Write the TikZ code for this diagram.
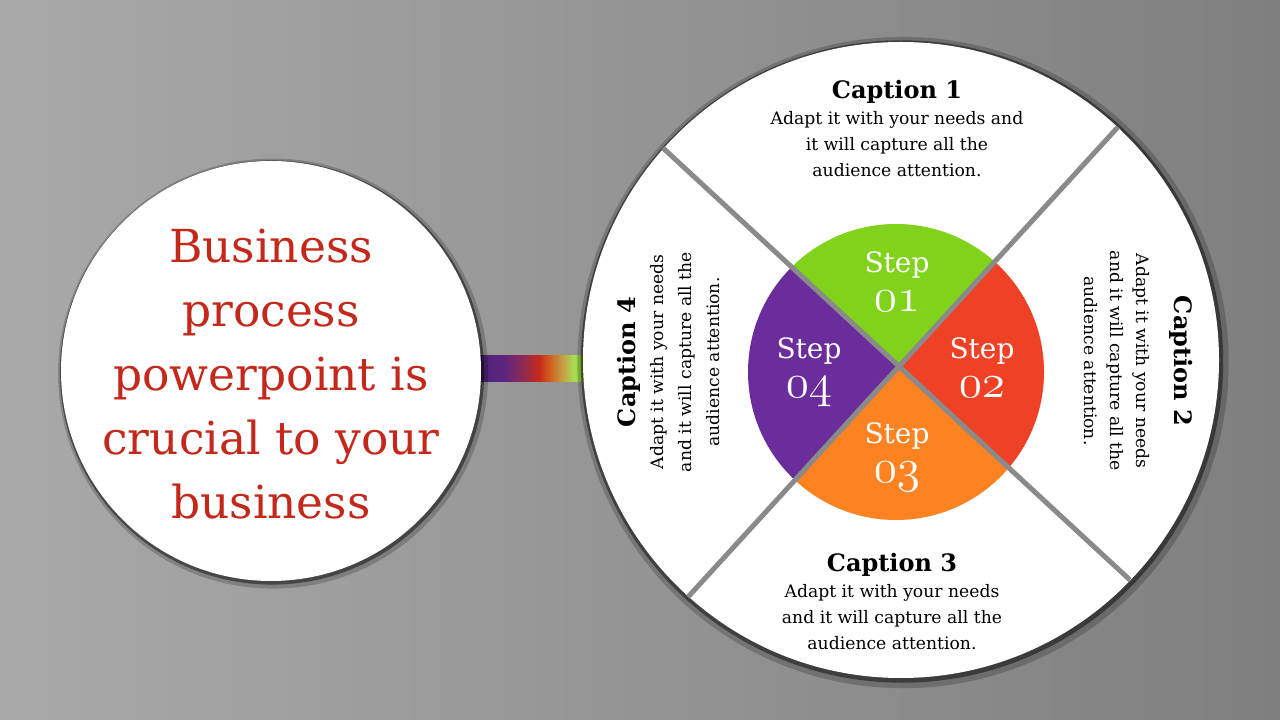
\documentclass[tikz,border=0pt]{standalone}
\usepackage{fontspec}
\setmainfont{DejaVu Serif}
\usetikzlibrary{positioning, shadows, calc}

\definecolor{bgleft}{HTML}{A9A9A9}
\definecolor{bgright}{HTML}{7F7F7F}
\definecolor{titlered}{HTML}{C3281B}
\definecolor{stepgreen}{HTML}{80D21A}
\definecolor{stepred}{HTML}{EE4126}
\definecolor{steporange}{HTML}{FD8221}
\definecolor{steppurple}{HTML}{6C2D9C}
\definecolor{divgray}{HTML}{8A8A8A}
\definecolor{barA}{HTML}{2C1444}
\definecolor{barB}{HTML}{4E2276}
\definecolor{barC}{HTML}{5A2580}
\definecolor{barD}{HTML}{8E2A55}
\definecolor{barE}{HTML}{C62A1A}
\definecolor{barF}{HTML}{D2581E}
\definecolor{barG}{HTML}{C4A046}
\definecolor{barH}{HTML}{A8E050}
\definecolor{barI}{HTML}{8CC83E}
\definecolor{barJ}{HTML}{527C22}

\pgfdeclarehorizontalshading{rainbowbar}{100bp}{color(0bp)=(barA); color(25bp)=(barA);
  color(27.5bp)=(barB); color(37.5bp)=(barC); color(46bp)=(barD); color(53bp)=(barE);
  color(57bp)=(barF); color(63bp)=(barG); color(68bp)=(barH); color(71bp)=(barI);
  color(73bp)=(barJ); color(100bp)=(barJ)}

\pgfdeclarelayer{back}
\pgfdeclarelayer{bar}
\pgfsetlayers{back,bar,main}

\newcommand\osnum[1]{\scalebox{1.9}{\fontsize{24.88}{30}\usefont{OML}{cmm}{m}{it}#1}}
\newcommand\capttitle[1]{{\fontsize{24}{26}\selectfont\bfseries #1}}

\tikzset{
  disc/.style={circle, fill=white, inner sep=0pt,
    general shadow={fill=black, opacity=.2, shadow scale=1.024, shadow xshift=2pt, shadow yshift=-2.5pt},
    general shadow={fill=black, opacity=.45, shadow scale=1.01, shadow xshift=1pt, shadow yshift=-1.5pt}},
  divider/.style={draw=divgray, line width=5pt},
  steplbl/.style={anchor=north, text=white, inner sep=0pt, font=\fontsize{28}{39}\selectfont},
  stepnum/.style={text=white, inner sep=0pt},
  capt/.style={anchor=north, align=center, inner sep=0pt, font=\fontsize{17.2}{26}\selectfont},
  headline/.style={align=center, inner sep=0pt, text=titlered, font=\fontsize{45.5}{64}\selectfont}
}

\begin{document}
\begin{tikzpicture}[x=1pt, y=1pt, node distance=12pt]
\begin{pgfonlayer}{back}
\shade[left color=bgleft, right color=bgright] (0,0) rectangle (1280,720);
\end{pgfonlayer}

% the two discs
\node[disc, minimum size=420pt] (lc) at (271,349) {};
\node[disc, minimum size=636pt] (bc) at (901,360) {};
\begin{pgfonlayer}{bar}
\shade[shading=rainbowbar] ($(lc.east)+(-8,15)$) rectangle ($(bc.west |- lc.east)+(8,-11)$);
\end{pgfonlayer}

\node[headline] (head) at (271,346) {Business\\process\\powerpoint is\\crucial to your\\business};

% quarters
\coordinate (tl) at (663,572);
\coordinate (tr) at (1118,593);
\coordinate (br) at (1130,140);
\coordinate (bl) at (688,123);
\coordinate (hub) at (intersection of tl--br and tr--bl);
\coordinate (pc) at (896,348);
\begin{scope}
\clip (pc) circle (148pt);
\fill[stepgreen] (hub) -- (tl) -- (tr) -- cycle;
\fill[stepred] (hub) -- (tr) -- (br) -- cycle;
\fill[steporange] (hub) -- (br) -- (bl) -- cycle;
\fill[steppurple] (hub) -- (bl) -- (tl) -- cycle;
\end{scope}
\draw[divider] (tl) -- (br);
\draw[divider] (tr) -- (bl);

\node[steplbl] (s1) at (897,468) {Step};
\node[stepnum, below=of s1] (n1) {\osnum{01}};
\node[steplbl] (s2) at (982,382) {Step};
\node[stepnum, below=of s2] (n2) {\osnum{02}};
\node[steplbl] (s3) at (897,297) {Step};
\node[stepnum, below=of s3] (n3) {\osnum{03}};
\node[steplbl] (s4) at (809,382) {Step};
\node[stepnum, below=of s4] (n4) {\osnum{04}};

% captions
\node[capt] (cap1) at (897,640) {\capttitle{Caption 1}\\Adapt it with your needs and\\it will capture all the\\audience attention.};
\node[capt, rotate=-90] (cap2) at (1193,359) {\capttitle{Caption 2}\\[12pt]Adapt it with your needs\\and it will capture all the\\audience attention.};
\node[capt] (cap3) at (892,167) {\capttitle{Caption 3}\\Adapt it with your needs\\and it will capture all the\\audience attention.};
\node[capt, rotate=90, font=\fontsize{17.2}{28}\selectfont] (cap4) at (617,358) {\capttitle{Caption 4}\\Adapt it with your needs\\and it will capture all the\\audience attention.};
\end{tikzpicture}
\end{document}
